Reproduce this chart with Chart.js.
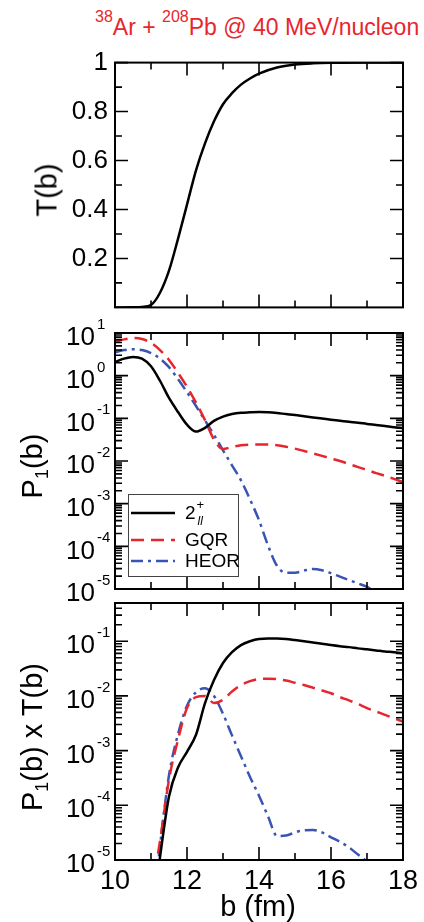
<!DOCTYPE html>
<html>
<head>
<meta charset="utf-8">
<script src="https://cdn.jsdelivr.net/npm/chart.js@4.4.1/dist/chart.umd.min.js"></script>
<style>
  html, body { margin: 0; padding: 0; background: #fff; }
  #fig { position: relative; width: 424px; height: 922px; overflow: hidden;
         font-family: "Liberation Sans", Arial, Helvetica, sans-serif; }
  #fig canvas { position: absolute; left: 0; }
  .lbl { position: absolute; white-space: nowrap; color: #000; font-size: 29px; line-height: 1; }
  .rot { transform: translate(-50%, -50%) rotate(-90deg); }
  .sub { font-size: 18px; position: relative; top: 6px; }
  #title { position: absolute; left: 95px; top: 16px; color: #e8262c; font-size: 23px;
           line-height: 23px; white-space: nowrap; }
  #title .sup { font-size: 16px; position: relative; top: -13px; }
</style>
</head>
<body>
<div id="fig">
  <div id="title"><span class="sup">38</span>Ar + <span class="sup">208</span>Pb @ 40 MeV/nucleon</div>
  <canvas id="c3" width="424" height="332" style="top:590px"></canvas>
  <canvas id="c2" width="424" height="290" style="top:318px"></canvas>
  <canvas id="c1" width="424" height="290" style="top:40px"></canvas>
  <div class="lbl rot" style="left:47px;top:190px">T(b)</div>
  <div class="lbl rot" style="left:32px;top:466px">P<span class="sub">1</span>(b)</div>
  <div class="lbl rot" style="left:32px;top:737px">P<span class="sub">1</span>(b) x T(b)</div>
  <div class="lbl" style="left:258px;top:906px;transform:translate(-50%,-50%)">b (fm)</div>
</div>
<script>
// ---- data ----
var bT = [10, 10.5, 10.75, 11, 11.25, 11.5, 11.75, 12, 12.25, 12.5, 12.75, 13, 13.25, 13.5, 13.75, 14, 14.5, 15, 15.5, 16, 17, 18];
var transT = [0, 0.0005, 0.002, 0.01, 0.06, 0.15, 0.28, 0.42, 0.56, 0.67, 0.76, 0.83, 0.875, 0.91, 0.935, 0.955, 0.98, 0.992, 0.997, 0.999, 1, 1];

var bGrid = [10, 10.25, 10.5, 10.75, 11, 11.25, 11.5, 11.75, 12, 12.25, 12.5, 12.75, 13, 13.25, 13.5, 13.75,
             14, 14.25, 14.5, 14.75, 15, 15.25, 15.5, 15.75, 16, 16.25, 16.5, 16.75, 17, 17.25, 17.5, 17.75, 18];

// P1(b)
var p2plus = [2.09, 2.51, 2.75, 2.51, 1.66, 0.76, 0.30, 0.141, 0.071, 0.049, 0.060, 0.087, 0.110, 0.126, 0.135, 0.138,
              0.140, 0.138, 0.133, 0.126, 0.120, 0.112, 0.105, 0.099, 0.093, 0.088, 0.083, 0.079, 0.074, 0.070, 0.066, 0.062, 0.059];
var pGQR = [6.17, 7.08, 7.59, 7.24, 5.89, 3.98, 2.34, 1.17, 0.55, 0.234, 0.091, 0.0316, 0.0191, 0.0214, 0.0234, 0.0243,
            0.0245, 0.0243, 0.0234, 0.0216, 0.0195, 0.0172, 0.0151, 0.0132, 0.0115, 0.0100, 0.0085, 0.0072, 0.0062, 0.0052, 0.0045, 0.0038, 0.0032];
var pHEOR = [3.55, 3.98, 4.17, 3.98, 3.39, 2.51, 1.58, 0.83, 0.41, 0.195, 0.089, 0.041, 0.0178, 0.0079, 0.0035, 0.00126,
             4.1e-4, 1.05e-4, 3.5e-5, 2.4e-5, 2.4e-5, 2.7e-5, 2.95e-5, 2.75e-5, 2.35e-5, 1.95e-5, 1.62e-5, 1.35e-5, 1.12e-5, 8.3e-6, 6.3e-6, 4.5e-6, 3.2e-6];

// P1(b) x T(b)
var pt2plus = [null, null, null, null, 6.3e-7, 1.12e-5, 1.45e-4, 4.9e-4, 9.5e-4, 1.95e-3, 7.4e-3, 0.0195, 0.040, 0.063, 0.085, 0.100,
               0.110, 0.112, 0.112, 0.110, 0.105, 0.100, 0.095, 0.090, 0.085, 0.081, 0.078, 0.074, 0.071, 0.068, 0.065, 0.063, 0.060];
var ptGQR = [null, null, null, null, 2.5e-6, 2.2e-5, 2.95e-4, 1.58e-3, 6.0e-3, 9.5e-3, 0.0100, 0.0074, 0.0085, 0.0120, 0.0158, 0.0186,
             0.0204, 0.0207, 0.0204, 0.0191, 0.0174, 0.0158, 0.0141, 0.0126, 0.0112, 0.0095, 0.0083, 0.0071, 0.0060, 0.0052, 0.0045, 0.0039, 0.0034];
var ptHEOR = [null, null, null, null, 5e-7, 1.78e-5, 3.55e-4, 2.0e-3, 6.6e-3, 0.0117, 0.0138, 0.0100, 0.0047, 0.0019, 7.9e-4, 3.3e-4,
              1.5e-4, 6.3e-5, 2.75e-5, 2.8e-5, 3.2e-5, 3.5e-5, 3.55e-5, 3.2e-5, 2.6e-5, 2.15e-5, 1.7e-5, 1.26e-5, 9.5e-6, 7.6e-6, 5.6e-6, 4.2e-6, 3.2e-6];

// ticks
var bTicks = [10, 12, 14, 16, 18];
var bMinor = [11, 13, 15, 17];
var tTicks = [0.2, 0.4, 0.6, 0.8, 1];
var tMinor = [0.1, 0.3, 0.5, 0.7, 0.9];
var pDecades = [-5, -4, -3, -2, -1, 0, 1];
var ptDecades = [-5, -4, -3, -2, -1];

var legendNames = ['2+ll', 'GQR', 'HEOR'];

var FONT = '"Liberation Sans", Arial, Helvetica, sans-serif';
var RED = '#e6262c', BLUE = '#3a54b4';

function pts(xs, ys) { return xs.map(function (x, i) { return {x: x, y: ys[i]}; }); }

var styles = [
  {borderColor: '#000', borderDash: []},
  {borderColor: RED, borderDash: [13, 7]},
  {borderColor: BLUE, borderDash: [12, 5, 3, 5]}
];

// frame with inward ticks on all four sides, drawn from the chart's own scales
var frame = {
  id: 'frame',
  afterDatasetsDraw: function (chart, args, o) {
    var ctx = chart.ctx, a = chart.chartArea, x = chart.scales.x, y = chart.scales.y;
    ctx.save();
    ctx.strokeStyle = '#000';
    ctx.lineWidth = 1.6;
    ctx.beginPath();
    function xt(v, len) {
      var px = x.getPixelForValue(v);
      ctx.moveTo(px, a.bottom); ctx.lineTo(px, a.bottom - len);
      ctx.moveTo(px, a.top); ctx.lineTo(px, a.top + len);
    }
    function yt(v, len) {
      var py = y.getPixelForValue(v);
      if (py < a.top - 0.5 || py > a.bottom + 0.5) return;
      ctx.moveTo(a.left, py); ctx.lineTo(a.left + len, py);
      ctx.moveTo(a.right, py); ctx.lineTo(a.right - len, py);
    }
    bTicks.forEach(function (v) { xt(v, 13); });
    bMinor.forEach(function (v) { xt(v, 7); });
    if (o.log) {
      var lo = Math.floor(Math.log10(y.min)), hi = Math.ceil(Math.log10(y.max));
      for (var d = lo; d <= hi; d++) {
        yt(Math.pow(10, d), 13);
        for (var k = 2; k <= 9; k++) {
          var v = k * Math.pow(10, d);
          if (v > y.min && v < y.max) yt(v, 7);
        }
      }
    } else {
      tTicks.forEach(function (v) { yt(v, 13); });
      tMinor.forEach(function (v) { yt(v, 7); });
    }
    ctx.stroke();
    ctx.lineWidth = 2;
    ctx.strokeRect(a.left, a.top, a.right - a.left, a.bottom - a.top);

    // power-of-ten labels
    if (o.decades) {
      ctx.fillStyle = '#000';
      ctx.textBaseline = 'middle';
      o.decades.forEach(function (d) {
        var py = y.getPixelForValue(Math.pow(10, d));
        ctx.font = '26px ' + FONT;
        ctx.textAlign = 'right';
        ctx.fillText('10', 95, py + 5);
        ctx.font = '15px ' + FONT;
        ctx.textAlign = 'left';
        ctx.fillText(String(d), 97, py - 8);
      });
    }
    ctx.restore();
  }
};

var legendBox = {
  id: 'legendBox',
  afterDraw: function (chart, args, o) {
    if (!o.show) return;
    var ctx = chart.ctx, a = chart.chartArea;
    var L = a.left + 13, T = a.bottom - 95, W = 110, H = 82;
    var rows = [19, 46, 67];
    ctx.save();
    ctx.fillStyle = '#fff';
    ctx.fillRect(L, T, W, H);
    ctx.strokeStyle = '#444';
    ctx.lineWidth = 1;
    ctx.strokeRect(L + 0.5, T + 0.5, W, H);
    chart.data.datasets.forEach(function (ds, i) {
      var yy = T + rows[i];
      ctx.strokeStyle = ds.borderColor;
      ctx.lineWidth = 2.5;
      ctx.setLineDash(ds.borderDash);
      ctx.beginPath();
      ctx.moveTo(L + 3, yy); ctx.lineTo(L + 47, yy);
      ctx.stroke();
      ctx.setLineDash([]);
      ctx.fillStyle = '#000';
      ctx.textBaseline = 'middle';
      ctx.textAlign = 'left';
      ctx.font = '19px ' + FONT;
      if (i === 0) {
        ctx.fillText('2', L + 57, yy + 1);
        var w = ctx.measureText('2').width;
        ctx.font = '13px ' + FONT;
        ctx.fillText('+', L + 58 + w, yy - 8);
        ctx.font = 'italic 12px ' + FONT;
        ctx.fillText('ll', L + 59 + w, yy + 9);
      } else {
        ctx.fillText(legendNames[i], L + 57, yy + 1);
      }
    });
    ctx.restore();
  }
};

function yWidth(s) { s.width = 115; }

function makeChart(id, datasets, pad, yScale, xScale, plug) {
  return new Chart(document.getElementById(id), {
    type: 'line',
    data: {datasets: datasets},
    options: {
      responsive: false,
      animation: false,
      events: [],
      layout: {padding: pad},
      elements: {point: {radius: 0}, line: {borderWidth: 2.5, cubicInterpolationMode: 'monotone'}},
      plugins: {legend: {display: false}, tooltip: {enabled: false}, frame: plug.frame, legendBox: plug.legend || {}},
      scales: {x: xScale, y: yScale}
    },
    plugins: [frame, legendBox]
  });
}

function hiddenX() {
  return {type: 'linear', min: 10, max: 18, display: false};
}

function lineSets(xs, series) {
  return series.map(function (s, i) {
    return {label: legendNames[i], data: pts(xs, s), borderColor: styles[i].borderColor,
            borderDash: styles[i].borderDash, fill: false, spanGaps: false};
  });
}

// panel 1: T(b)
makeChart('c1',
  [{label: 'T(b)', data: pts(bT, transT), borderColor: '#000', borderWidth: 2.5, fill: false}],
  {left: 0, right: 21, top: 21, bottom: 12},
  {type: 'linear', min: 0, max: 1,
   afterBuildTicks: function (s) { s.ticks = tTicks.map(function (v) { return {value: v}; }); },
   afterFit: yWidth,
   grid: {display: false, drawTicks: false}, border: {display: false},
   ticks: {color: '#000', padding: 7, font: {family: FONT, size: 26}, callback: function (v) { return String(v); }}},
  hiddenX(),
  {frame: {log: false}});

// panel 2: P1(b)
makeChart('c2',
  lineSets(bGrid, [p2plus, pGQR, pHEOR]),
  {left: 0, right: 21, top: 15, bottom: 19},
  {type: 'logarithmic', min: 1e-5, max: 10, afterFit: yWidth,
   grid: {display: false, drawTicks: false}, border: {display: false}, ticks: {display: false}},
  hiddenX(),
  {frame: {log: true, decades: pDecades}, legend: {show: true}});

// panel 3: P1(b) x T(b)
makeChart('c3',
  lineSets(bGrid, [pt2plus, ptGQR, ptHEOR]),
  {left: 0, right: 21, top: 13, bottom: 0},
  {type: 'logarithmic', min: 1e-5, max: 0.5, afterFit: yWidth,
   grid: {display: false, drawTicks: false}, border: {display: false}, ticks: {display: false}},
  {type: 'linear', min: 10, max: 18,
   afterBuildTicks: function (s) { s.ticks = bTicks.map(function (v) { return {value: v}; }); },
   afterFit: function (s) { s.height = 62; },
   grid: {display: false, drawTicks: false}, border: {display: false},
   ticks: {color: '#000', padding: 5, maxRotation: 0, font: {family: FONT, size: 27}, callback: function (v) { return String(v); }}},
  {frame: {log: true, decades: ptDecades}});
</script>
</body>
</html>
